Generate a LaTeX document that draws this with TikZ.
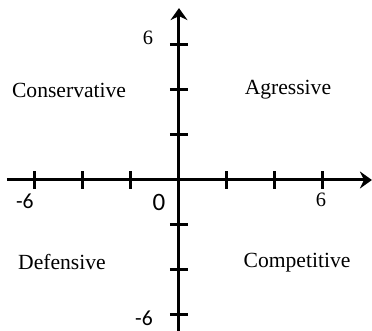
\documentclass[tikz,border=0pt]{standalone}
\usepackage{fontspec}
\setmainfont{Liberation Serif}
\newfontfamily\lblfont{Carlito}
\usetikzlibrary{arrows.meta}

\begin{document}
\begin{tikzpicture}[x=12pt, y=11.25pt, line width=1.5pt,
  quad/.style={font=\fontsize{10.8}{13}\selectfont},
  num/.style={font=\fontsize{10.2}{12}\selectfont},
  negnum/.style={font=\lblfont\fontsize{10.8}{12}\selectfont}]
\useasboundingbox (-7.458,-6.711) rectangle (8.042,8.0);
\draw[-{Stealth[length=6pt,width=8.5pt,inset=2pt]}] (-7.17,0) -- (8.04,0);
\draw[-{Stealth[length=6pt,width=8.5pt,inset=2pt]}] (0,-6.71) -- (0,7.64);
\foreach \x in {-6,-4,-2,2,4,6} \draw (\x,0) ++(0,-4.5pt) -- ++(0,9pt);
\foreach \y in {-6,-4,-2,2,4,6} \draw (0,\y) ++(-4.5pt,0) -- ++(9pt,0);
\node[num] (ytop) at (-1.29,6.31) {6};
\node[negnum] (ybot) at (-1.46,-6.13) {-6};
\node[negnum] (xleft) at (-6.42,-0.93) {-6};
\node[num] (xright) at (5.92,-0.9) {6};
\node[font=\lblfont\fontsize{12.5}{14}\selectfont] (orig) at (-0.83,-1.02) {0};
\node[quad] (cons) at (-4.58,4.0) {Conservative};
\node[quad] (agr) at (4.54,4.0) {Agressive};
\node[quad] (def) at (-4.875,-3.64) {Defensive};
\node[quad] (comp) at (4.92,-3.69) {Competitive};
\end{tikzpicture}
\end{document}
